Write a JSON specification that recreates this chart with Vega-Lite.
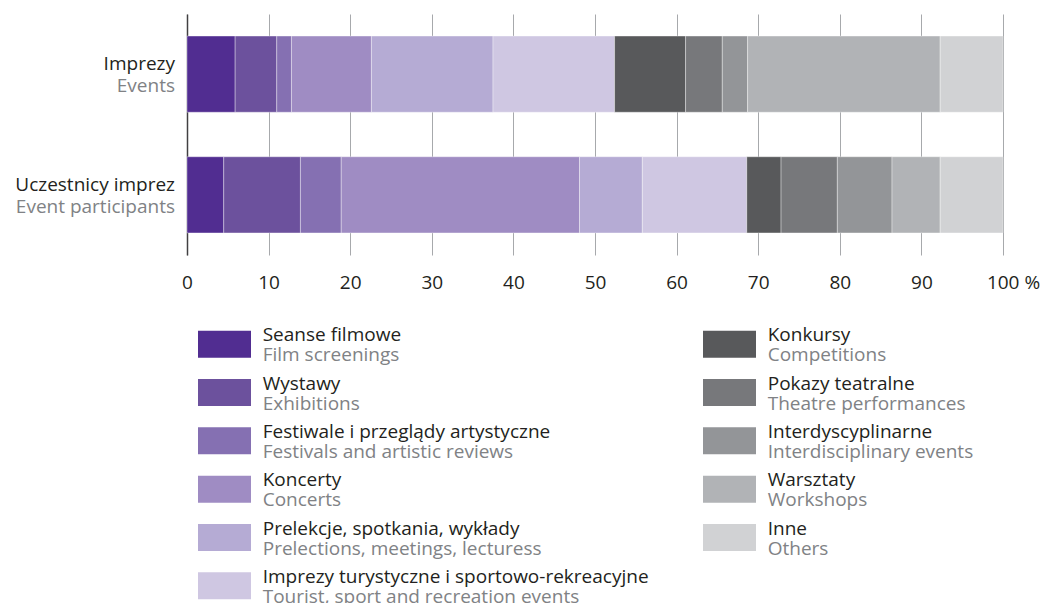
{
  "$schema": "https://vega.github.io/schema/vega-lite/v6.json",
  "background": "white",
  "padding": {"left": 15, "top": 14, "right": 0, "bottom": 0},
  "datasets": {
    "udzialy": [
      {"wiersz": "Imprezy", "kategoria": "Seanse filmowe", "nr": 1, "udzial": 5.9},
      {"wiersz": "Imprezy", "kategoria": "Wystawy", "nr": 2, "udzial": 5.1},
      {"wiersz": "Imprezy", "kategoria": "Festiwale i przeglądy artystyczne", "nr": 3, "udzial": 1.8},
      {"wiersz": "Imprezy", "kategoria": "Koncerty", "nr": 4, "udzial": 9.8},
      {"wiersz": "Imprezy", "kategoria": "Prelekcje, spotkania, wykłady", "nr": 5, "udzial": 14.9},
      {"wiersz": "Imprezy", "kategoria": "Imprezy turystyczne i sportowo-rekreacyjne", "nr": 6, "udzial": 14.9},
      {"wiersz": "Imprezy", "kategoria": "Konkursy", "nr": 7, "udzial": 8.7},
      {"wiersz": "Imprezy", "kategoria": "Pokazy teatralne", "nr": 8, "udzial": 4.5},
      {"wiersz": "Imprezy", "kategoria": "Interdyscyplinarne", "nr": 9, "udzial": 3.1},
      {"wiersz": "Imprezy", "kategoria": "Warsztaty", "nr": 10, "udzial": 23.6},
      {"wiersz": "Imprezy", "kategoria": "Inne", "nr": 11, "udzial": 7.7},
      {"wiersz": "Uczestnicy imprez", "kategoria": "Seanse filmowe", "nr": 1, "udzial": 4.5},
      {"wiersz": "Uczestnicy imprez", "kategoria": "Wystawy", "nr": 2, "udzial": 9.4},
      {"wiersz": "Uczestnicy imprez", "kategoria": "Festiwale i przeglądy artystyczne", "nr": 3, "udzial": 5.0},
      {"wiersz": "Uczestnicy imprez", "kategoria": "Koncerty", "nr": 4, "udzial": 29.2},
      {"wiersz": "Uczestnicy imprez", "kategoria": "Prelekcje, spotkania, wykłady", "nr": 5, "udzial": 7.7},
      {"wiersz": "Uczestnicy imprez", "kategoria": "Imprezy turystyczne i sportowo-rekreacyjne", "nr": 6, "udzial": 12.8},
      {"wiersz": "Uczestnicy imprez", "kategoria": "Konkursy", "nr": 7, "udzial": 4.2},
      {"wiersz": "Uczestnicy imprez", "kategoria": "Pokazy teatralne", "nr": 8, "udzial": 6.9},
      {"wiersz": "Uczestnicy imprez", "kategoria": "Interdyscyplinarne", "nr": 9, "udzial": 6.7},
      {"wiersz": "Uczestnicy imprez", "kategoria": "Warsztaty", "nr": 10, "udzial": 5.9},
      {"wiersz": "Uczestnicy imprez", "kategoria": "Inne", "nr": 11, "udzial": 7.7}
    ],
    "wiersze": [
      {"wiersz": "Imprezy", "en": "Events"},
      {"wiersz": "Uczestnicy imprez", "en": "Event participants"}
    ],
    "kategorie": [
      {"kategoria": "Seanse filmowe", "en": "Film screenings", "nr": 1},
      {"kategoria": "Wystawy", "en": "Exhibitions", "nr": 2},
      {"kategoria": "Festiwale i przeglądy artystyczne", "en": "Festivals and artistic reviews", "nr": 3},
      {"kategoria": "Koncerty", "en": "Concerts", "nr": 4},
      {"kategoria": "Prelekcje, spotkania, wykłady", "en": "Prelections, meetings, lecturess", "nr": 5},
      {"kategoria": "Imprezy turystyczne i sportowo-rekreacyjne", "en": "Tourist, sport and  recreation events", "nr": 6},
      {"kategoria": "Konkursy", "en": "Competitions", "nr": 7},
      {"kategoria": "Pokazy teatralne", "en": "Theatre performances", "nr": 8},
      {"kategoria": "Interdyscyplinarne", "en": "Interdisciplinary events", "nr": 9},
      {"kategoria": "Warsztaty", "en": "Workshops", "nr": 10},
      {"kategoria": "Inne", "en": "Others", "nr": 11}
    ]
  },
  "config": {
    "view": {"stroke": null},
    "font": "Open Sans",
    "text": {"font": "Open Sans", "fontSize": 19}
  },
  "spacing": 65,
  "bounds": "flush",
  "vconcat": [
    {
      "width": 816,
      "height": 241,
      "layer": [
        {
          "data": {"name": "udzialy"},
          "mark": {"type": "bar", "stroke": "#ffffff", "strokeWidth": 0.8, "strokeOpacity": 0.45},
          "encoding": {
            "x": {
              "field": "udzial", "type": "quantitative", "stack": "zero",
              "scale": {"domain": [0, 100], "nice": false},
              "axis": {
                "title": null, "values": [0, 10, 20, 30, 40, 50, 60, 70, 80, 90, 100],
                "domain": false, "ticks": false, "grid": true,
                "gridColor": "#a7a9ac", "gridWidth": 1,
                "labelFont": "Open Sans", "labelFontSize": 19, "labelColor": "#231f20",
                "labelPadding": 18, "labelFlush": false, "labelOverlap": false,
                "labelExpr": "datum.value == 100 ? '100 %' : datum.label",
                "labelOffset": {"condition": {"test": "datum.value == 100", "value": 10}, "value": 0}
              }
            },
            "y": {
              "field": "wiersz", "type": "nominal", "sort": ["Imprezy", "Uczestnicy imprez"],
              "scale": {"paddingInner": 0.369, "paddingOuter": 0.183},
              "axis": {"title": null, "labels": false, "ticks": false, "grid": false, "domain": true, "domainColor": "#414042", "domainWidth": 1.5}
            },
            "color": {
              "field": "kategoria", "type": "nominal", "legend": null,
              "scale": {
                "domain": ["Seanse filmowe", "Wystawy", "Festiwale i przeglądy artystyczne", "Koncerty", "Prelekcje, spotkania, wykłady", "Imprezy turystyczne i sportowo-rekreacyjne", "Konkursy", "Pokazy teatralne", "Interdyscyplinarne", "Warsztaty", "Inne"],
                "range": ["#512d91", "#6c519d", "#8570b2", "#9f8cc3", "#b5abd4", "#cfc7e2", "#58595b", "#77787b", "#939598", "#b1b3b6", "#d1d2d4"]
              }
            },
            "order": {"field": "nr", "type": "quantitative"}
          }
        },
        {
          "data": {"name": "wiersze"},
          "mark": {"type": "text", "align": "right", "baseline": "alphabetic", "dx": -12, "dy": -4, "fontSize": 19, "color": "#231f20"},
          "encoding": {
            "x": {"datum": 0, "type": "quantitative"},
            "y": {"field": "wiersz", "type": "nominal", "sort": ["Imprezy", "Uczestnicy imprez"]},
            "text": {"field": "wiersz"}
          }
        },
        {
          "data": {"name": "wiersze"},
          "mark": {"type": "text", "align": "right", "baseline": "alphabetic", "dx": -12, "dy": 18, "fontSize": 19, "color": "#808285"},
          "encoding": {
            "x": {"datum": 0, "type": "quantitative"},
            "y": {"field": "wiersz", "type": "nominal", "sort": ["Imprezy", "Uczestnicy imprez"]},
            "text": {"field": "en"}
          }
        }
      ]
    },
    {
      "spacing": 0,
      "bounds": "flush",
      "hconcat": [
        {
          "width": 505,
          "height": 290,
          "data": {"name": "kategorie"},
          "transform": [{"filter": "datum.nr <= 6"}],
          "encoding": {
            "y": {"field": "kategoria", "type": "nominal", "sort": {"field": "nr"}, "scale": {"paddingInner": 0, "paddingOuter": 0}, "axis": null}
          },
          "layer": [
            {
              "mark": {"type": "bar", "height": 27},
              "encoding": {
                "x": {"datum": 11, "type": "quantitative", "scale": {"domain": [0, 505], "nice": false, "zero": false}, "axis": null},
                "x2": {"datum": 64},
                "color": {"field": "kategoria", "type": "nominal", "legend": null,
                  "scale": {
                    "domain": ["Seanse filmowe", "Wystawy", "Festiwale i przeglądy artystyczne", "Koncerty", "Prelekcje, spotkania, wykłady", "Imprezy turystyczne i sportowo-rekreacyjne", "Konkursy", "Pokazy teatralne", "Interdyscyplinarne", "Warsztaty", "Inne"],
                    "range": ["#512d91", "#6c519d", "#8570b2", "#9f8cc3", "#b5abd4", "#cfc7e2", "#58595b", "#77787b", "#939598", "#b1b3b6", "#d1d2d4"]
                  }}
              }
            },
            {
              "mark": {"type": "text", "align": "left", "baseline": "alphabetic", "dy": -3, "fontSize": 19, "color": "#231f20"},
              "encoding": {"x": {"datum": 75.7, "type": "quantitative"}, "text": {"field": "kategoria"}}
            },
            {
              "mark": {"type": "text", "align": "left", "baseline": "alphabetic", "dy": 17, "fontSize": 19, "color": "#808285"},
              "encoding": {"x": {"datum": 75.7, "type": "quantitative"}, "text": {"field": "en"}}
            }
          ]
        },
        {
          "width": 300,
          "height": 241.7,
          "data": {"name": "kategorie"},
          "transform": [{"filter": "datum.nr >= 7"}],
          "encoding": {
            "y": {"field": "kategoria", "type": "nominal", "sort": {"field": "nr"}, "scale": {"paddingInner": 0, "paddingOuter": 0}, "axis": null}
          },
          "layer": [
            {
              "mark": {"type": "bar", "height": 27},
              "encoding": {
                "x": {"datum": 11, "type": "quantitative", "scale": {"domain": [0, 300], "nice": false, "zero": false}, "axis": null},
                "x2": {"datum": 64},
                "color": {"field": "kategoria", "type": "nominal", "legend": null,
                  "scale": {
                    "domain": ["Seanse filmowe", "Wystawy", "Festiwale i przeglądy artystyczne", "Koncerty", "Prelekcje, spotkania, wykłady", "Imprezy turystyczne i sportowo-rekreacyjne", "Konkursy", "Pokazy teatralne", "Interdyscyplinarne", "Warsztaty", "Inne"],
                    "range": ["#512d91", "#6c519d", "#8570b2", "#9f8cc3", "#b5abd4", "#cfc7e2", "#58595b", "#77787b", "#939598", "#b1b3b6", "#d1d2d4"]
                  }}
              }
            },
            {
              "mark": {"type": "text", "align": "left", "baseline": "alphabetic", "dy": -3, "fontSize": 19, "color": "#231f20"},
              "encoding": {"x": {"datum": 75.7, "type": "quantitative"}, "text": {"field": "kategoria"}}
            },
            {
              "mark": {"type": "text", "align": "left", "baseline": "alphabetic", "dy": 17, "fontSize": 19, "color": "#808285"},
              "encoding": {"x": {"datum": 75.7, "type": "quantitative"}, "text": {"field": "en"}}
            }
          ]
        }
      ]
    }
  ]
}
